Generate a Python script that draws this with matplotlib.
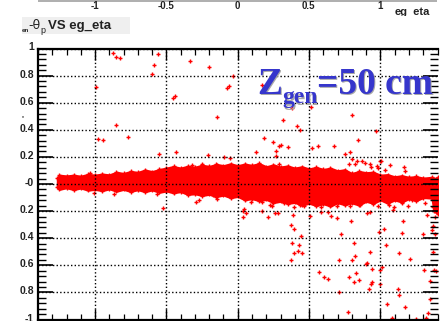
"""Recreate the theta difference vs eg_eta scatter (Zgen = 50 cm)."""

import matplotlib

matplotlib.use("Agg")
import matplotlib.pyplot as plt
from matplotlib.patches import Rectangle
from matplotlib.transforms import ScaledTranslation

W, H = 441, 321

x_ticks = [-1, -0.5, 0, 0.5, 1]
x_tick_labels = ["-1", "-0.5", "0", "0.5", "1"]
y_ticks = [1, 0.8, 0.6, 0.4, 0.2, 0, -0.2, -0.4, -0.6, -0.8, -1]
y_tick_labels = ["1", "0.8", "0.6", "0.4", "0.2", "-0", "0.2", "0.4", "0.6", "0.8", "-1"]

# outline of the dense band
band_eta = [-1.265, -1.25, -1.2, -1.15, -1.1, -1.05, -1.0, -0.95, -0.9, -0.85, -0.8, -0.75,
            -0.7, -0.65, -0.6, -0.55, -0.5, -0.45, -0.4, -0.35, -0.3, -0.25, -0.2, -0.15,
            -0.1, -0.05, 0.0, 0.05, 0.1, 0.15, 0.2, 0.25, 0.3, 0.35, 0.4, 0.45, 0.5, 0.55,
            0.6, 0.65, 0.7, 0.75, 0.8, 0.85, 0.9, 0.95, 1.0, 1.05, 1.1, 1.15, 1.2, 1.25,
            1.3, 1.36, 1.375, 1.4]
band_top = [0.045, 0.066, 0.06, 0.066, 0.058, 0.072, 0.066, 0.074, 0.068, 0.088, 0.078, 0.094,
            0.086, 0.104, 0.092, 0.108, 0.118, 0.13, 0.118, 0.132, 0.124, 0.14, 0.13, 0.146,
            0.136, 0.15, 0.136, 0.148, 0.138, 0.152, 0.128, 0.142, 0.126, 0.134, 0.118, 0.128,
            0.112, 0.124, 0.108, 0.118, 0.098, 0.106, 0.078, 0.094, 0.084, 0.088, 0.066, 0.07,
            0.054, 0.062, 0.05, 0.056, 0.044, 0.05, 0.04, 0.05]
band_bottom = [-0.02, -0.04, -0.028, -0.042, -0.03, -0.046, -0.04, -0.05, -0.036, -0.054,
               -0.04, -0.056, -0.042, -0.058, -0.044, -0.062, -0.052, -0.066, -0.056, -0.078,
               -0.072, -0.086, -0.076, -0.094, -0.082, -0.102, -0.092, -0.118, -0.108, -0.124,
               -0.114, -0.138, -0.128, -0.144, -0.136, -0.158, -0.142, -0.16, -0.146, -0.164,
               -0.138, -0.154, -0.14, -0.156, -0.128, -0.144, -0.118, -0.142, -0.118, -0.134,
               -0.108, -0.124, -0.1, -0.105, -0.2, -0.22]

# scattered points outside the band
out_eta = [-0.871, -0.855, -0.825, -0.556, -0.584, -0.598, -0.995, -0.335, -0.198, -0.441,
           -0.451, -0.034, -0.06, -0.074, 0.17, 0.514, 0.38, -0.853, -0.977, -0.942, -0.771,
           -0.551, -0.434, -0.209, -0.142, -0.321, -0.254, -0.146, -1.035, -0.523, -0.296,
           -0.27, -0.17, -0.142, -0.563, -0.867, -1.007, 0.315, 0.801, 0.415, 0.439, 0.967,
           0.184, 0.244, 0.846, 0.305, 0.291, 0.35, 0.518, 0.56, 0.672, 0.13, 0.268, 0.268,
           0.75, 0.785, -0.099, -0.053, 0.803, 0.836, 0.874, 0.895, 0.78, 0.825, 0.928, 0.995,
           1.007, 1.065, 0.977, 0.932, 0.984, 1.035, 1.168, 1.175, 0.286, 0.034, 0.046, 0.06,
           0.034, 0.17, 0.212, 0.258, 0.279, 0.389, 0.509, 0.584, 0.584, 0.633, 0.651, 0.698,
           0.907, 0.925, 0.986, 1.058, 1.096, 1.086, 1.196, 1.328, 1.379, 1.367, 1.374, 0.228,
           0.242, 0.093, 0.17, 0.321, 0.392, 0.439, 0.462, 0.696, 0.785, 0.86, 1.152, 1.222,
           1.309, 0.371, 0.394, 0.446, 0.382, 0.429, 0.425, 0.396, 0.453, 0.375, 0.794, 0.725,
           0.815, 0.925, 0.825, 0.707, 0.801, 0.907, 0.902, 0.939, 0.57, 0.602, 0.633, 0.832,
           0.78, 0.848, 0.813, 0.939, 0.937, 0.923, 0.707, 0.773, 0.991, 1.028, 1.159, 1.152,
           1.297, 1.367, 1.358, 1.384, 1.04, 1.128, 1.208, 1.367, 1.009, 1.0, 1.302, 1.374,
           1.386, 1.344, 0.995, 1.121, 1.131, 1.349, 1.044, 1.17, 1.33, 1.079, 1.246, 1.316]
out_dtheta = [0.965, 0.935, 0.928, 0.962, 0.881, 0.81, 0.718, 0.91, 0.863, 0.652, 0.637, 0.8,
              0.725, 0.708, 0.73, 0.57, 0.558, 0.433, 0.332, 0.322, 0.345, 0.221, 0.234, 0.214,
              0.497, 0.138, 0.15, 0.14, 0.079, -0.175, -0.131, -0.116, -0.083, -0.111, -0.074,
              -0.074, -0.069, 0.47, 0.509, 0.43, 0.401, 0.389, 0.339, 0.312, 0.322, 0.285, 0.28,
              0.275, 0.266, 0.283, 0.278, 0.236, 0.246, 0.207, 0.221, 0.234, 0.197, 0.194, 0.187,
              0.172, 0.17, 0.155, 0.148, 0.145, 0.148, 0.172, 0.17, 0.142, 0.133, 0.123, 0.116,
              0.106, 0.128, 0.094, 0.145, -0.197, -0.185, -0.216, -0.246, -0.197, -0.246, -0.214,
              -0.216, -0.231, -0.236, -0.204, -0.172, -0.209, -0.238, -0.251, -0.216, -0.209,
              -0.162, -0.153, -0.172, -0.194, -0.165, -0.231, -0.246, -0.168, -0.192, -0.157,
              -0.162, -0.131, -0.131, -0.142, -0.168, -0.155, -0.162, -0.16, -0.162, -0.155,
              -0.142, -0.118, -0.138, -0.305, -0.33, -0.381, -0.433, -0.45, -0.492, -0.507, -0.509,
              -0.561, -0.271, -0.367, -0.438, -0.5, -0.534, -0.559, -0.561, -0.581, -0.593, -0.625,
              -0.649, -0.686, -0.703, -0.657, -0.686, -0.706, -0.723, -0.725, -0.736, -0.777,
              -0.795, -0.945, -0.354, -0.33, -0.275, -0.362, -0.367, -0.308, -0.342, -0.369,
              -0.448, -0.507, -0.551, -0.504, -0.613, -0.635, -0.632, -0.635, -0.64, -0.716, -0.74,
              -0.773, -0.819, -0.846, -0.888, -0.908, -0.952, -0.989, -0.996, -0.991]


def px_text(fig, x, y, s, **kw):
    # x, y in image pixels, y measured from the top
    return fig.text(x / W, 1 - y / H, s, **kw)


def main():
    plt.rcParams["font.family"] = ["Liberation Sans", "DejaVu Sans"]
    fig = plt.figure(figsize=(W / 100, H / 100), dpi=100)
    ax = fig.add_axes([38 / W, 1 - 319.5 / H, (437.5 - 38) / W, (319.5 - 48.5) / H])
    ax.set_xlim(-1.4, 1.4)
    ax.set_ylim(-1, 1)

    ax.grid(True, which="major", color="black", linestyle=(0, (1, 1.6)), linewidth=1.0)
    ax.set_axisbelow(False)

    ax.fill_between(band_eta, band_bottom, band_top, color="#ff0000", linewidth=1.4, zorder=2)
    edge_style = dict(linestyle="none", marker="+", markersize=2.4, markeredgewidth=1.0,
                      color="#ff0000", zorder=2)
    ax.plot(band_eta, band_top, **edge_style)
    ax.plot(band_eta, band_bottom, **edge_style)
    ax.plot(out_eta, out_dtheta, linestyle="none", marker="+", markersize=3.0,
            markeredgewidth=1.0, color="#ff0000", zorder=2)

    ax.set_xticks(x_ticks)
    ax.set_xticklabels([])
    ax.set_yticks(y_ticks)
    ax.set_yticklabels(y_tick_labels, fontsize=7.5, fontweight="bold", color="#222222")
    ax.set_xticks([t / 10 for t in range(-14, 15) if t % 5 != 0], minor=True)
    ax.set_yticks([t / 100 for t in range(-100, 101, 4) if t % 20 != 0], minor=True)
    ax.tick_params(axis="x", which="major", direction="in", top=True, bottom=True,
                   length=8, width=1.0, pad=2)
    ax.tick_params(axis="x", which="minor", direction="in", top=True, bottom=True,
                   length=4, width=0.9)
    ax.tick_params(axis="y", which="major", direction="in", left=True, right=True,
                   length=11, width=1.2, pad=3)
    ax.tick_params(axis="y", which="minor", direction="in", left=True, right=True,
                   length=6, width=1.0)
    # labels sit a little above their ticks in the original
    shift = ScaledTranslation(0, 2 / 100, fig.dpi_scale_trans)
    for label in ax.get_yticklabels():
        label.set_transform(label.get_transform() + shift)
    for side in ("left", "top", "bottom"):
        ax.spines[side].set_linewidth(1.6)
    ax.spines["right"].set_visible(False)

    # leftovers of the panel above
    fig.add_artist(Rectangle((38 / W, 1 - 1.5 / H), (437 - 38) / W, 1.5 / H,
                             transform=fig.transFigure, color="#b0b0b0", linewidth=0))
    for tick, label in zip(x_ticks, x_tick_labels):
        px_text(fig, 237.5 + 142.5 * tick, 6, label, fontsize=7, fontweight="bold",
                ha="center", va="center", color="#222222")
    px_text(fig, 412.5, 15, "eg_eta", fontsize=8, fontweight="bold", ha="center",
            va="baseline", color="#222222")
    # the axis title is cut just under its baseline
    fig.add_artist(Rectangle((390 / W, 1 - 20 / H), 46 / W, 4.3 / H,
                             transform=fig.transFigure, color="white", linewidth=0, zorder=5))

    # title box
    fig.add_artist(Rectangle((22 / W, 1 - 34 / H), 108 / W, 17 / H,
                             transform=fig.transFigure, color="#efefef", linewidth=0))
    px_text(fig, 21.5, 32, "en", fontsize=4.5, fontweight="bold", va="baseline", color="#222222")
    px_text(fig, 28.8, 29, "-\u03b8", fontsize=9, va="baseline", color="#222222",
            family=["DejaVu Sans"])
    px_text(fig, 40, 33, "p", fontsize=6.5, va="baseline", color="#222222")
    px_text(fig, 47.5, 29, "VS eg_eta", fontsize=9.5, fontweight="bold", va="baseline",
            color="#222222")
    px_text(fig, 22, 119, "'", fontsize=6, fontweight="bold", ha="center", va="center",
            color="#222222")

    # big label with its grey shadow
    big = [(257, 93.5, "Z", 27), (282, 103.5, "gen", 17), (317, 93.5, "=50 cm", 27)]
    for dx, color in ((1.5, "#a8a8a8"), (0, "#3636cc")):
        for x, y, s, size in big:
            px_text(fig, x + dx, y + dx, s, fontsize=size, fontweight="bold",
                    family=["Liberation Serif"], color=color, va="baseline")

    fig.savefig("out.png", dpi=100)
    plt.close(fig)


if __name__ == "__main__":
    main()
